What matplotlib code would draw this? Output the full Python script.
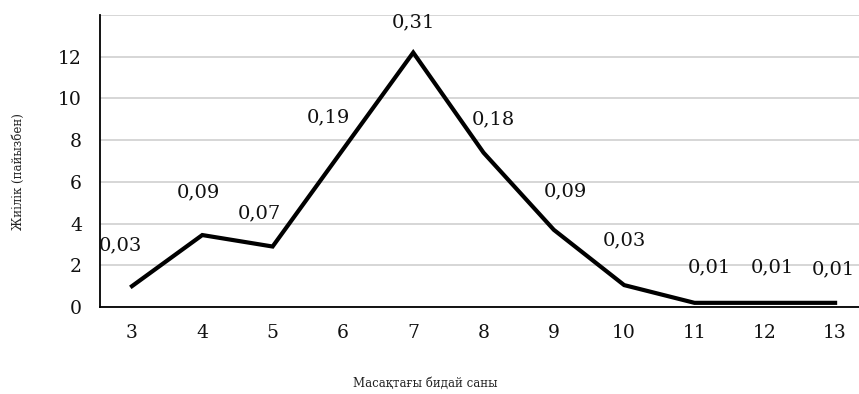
import matplotlib
matplotlib.use('Agg')
import matplotlib.pyplot as plt

# Дані: кількість зерен у колосі та частота
grains = [3, 4, 5, 6, 7, 8, 9, 10, 11, 12, 13]
frequency = [1.0, 3.45, 2.9, 7.55, 12.2, 7.4, 3.7, 1.05, 0.2, 0.2, 0.2]
rel_labels = ['0,03', '0,09', '0,07', '0,19', '0,31', '0,18',
              '0,09', '0,03', '0,01', '0,01', '0,01']
y_ticks = [0, 2, 4, 6, 8, 10, 12, 14]
y_ticklabels = ['0', '2', '4', '6', '8', '10', '12', '']

# зсуви підписів (у пікселях)
label_offsets = [(-12, 41), (-4, 43), (-13, 33), (-14, 32), (0, 30), (10, 33),
                 (12, 38), (0, 45), (15, 35), (8, 35), (-2, 33)]

plt.rcParams['font.family'] = ['DejaVu Serif']

fig = plt.figure(figsize=(8.59, 3.94), dpi=100)
ax = fig.add_axes([0.1164, 0.2208, 0.8836, 0.7411])

ax.plot(grains, frequency, color='black', linewidth=3.0, solid_joinstyle='miter')

for x, y, txt, (dx, dy) in zip(grains, frequency, rel_labels, label_offsets):
    ax.annotate(txt, (x, y), xytext=(dx * 0.72, dy * 0.72), textcoords='offset points',
                ha='center', va='center', fontsize=14, color='#111111')

ax.set_xlim(2.545, 13.34)
ax.set_ylim(0, 14)
ax.set_xticks(grains)
ax.set_xticklabels([str(g) for g in grains], fontsize=13.5, color='#111111')
ax.set_yticks(y_ticks)
ax.set_yticklabels(y_ticklabels, fontsize=13.5, color='#111111')
ax.tick_params(axis='x', length=0, pad=12)
ax.tick_params(axis='y', length=0, pad=13)

ax.grid(axis='y', color='#d6d6d6', linewidth=1.4)
ax.set_axisbelow(True)
ax.spines['top'].set_visible(False)
ax.spines['right'].set_visible(False)
ax.spines['left'].set_linewidth(1.3)
ax.spines['bottom'].set_linewidth(1.3)

fig.text(0.495, 0.028, 'Масақтағы бидай саны', ha='center', va='center', fontsize=8.5, color='#222222')
fig.text(0.021, 0.565, 'Жиілік (пайызбен)', ha='center', va='center', rotation=90, fontsize=8.5, color='#222222')

fig.savefig('out.png', dpi=100)
